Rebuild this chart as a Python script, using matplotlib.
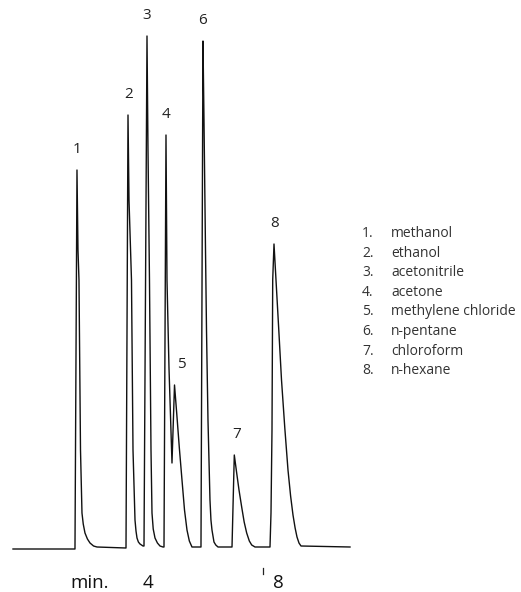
import matplotlib
matplotlib.use("Agg")
import matplotlib.pyplot as plt

# ---------------- data ----------------
compounds = ["methanol", "ethanol", "acetonitrile", "acetone",
             "methylene chloride", "n-pentane", "chloroform", "n-hexane"]
peak_numbers = ["1", "2", "3", "4", "5", "6", "7", "8"]
peak_time = [1.736, 3.318, 3.907, 4.496, 4.760, 5.643, 6.614, 7.845]   # min
peak_height = [378, 433, 512, 413, 163, 507, 93, 304]                  # detector response

# chromatogram trace (time in min, response)
trace_time = [
    -0.248, 1.674, 1.736, 1.767, 1.798, 1.845, 1.891, 1.930, 1.984, 2.060, 2.140, 2.250, 2.357,
    3.256, 3.318, 3.349, 3.426, 3.473, 3.535, 3.566, 3.597, 3.640, 3.690, 3.783,
    3.814, 3.907, 3.938, 3.984, 4.031, 4.062, 4.100, 4.155, 4.230, 4.310, 4.403,
    4.434, 4.496, 4.527, 4.589, 4.682,
    4.760, 4.828, 4.910, 4.992, 5.070, 5.147, 5.220, 5.302,
    5.581, 5.643, 5.674, 5.721, 5.752, 5.798, 5.860, 5.890, 5.922, 5.984, 6.040, 6.109,
    6.543, 6.614, 6.688, 6.760, 6.843, 6.920, 6.998, 7.080, 7.154, 7.256,
    7.721, 7.752, 7.783, 7.805, 7.845, 7.907, 7.990, 8.078, 8.180, 8.279, 8.360,
    8.434, 8.500, 8.558, 8.620, 8.682,
    10.202,
]
trace_signal = [
    -1, -1, 378, 298, 268, 98, 35, 24, 15, 9, 5, 2, 1,
    0, 433, 348, 268, 98, 28, 17, 10, 6, 4, 2,
    2, 512, 398, 268, 98, 35, 19, 10, 5, 2, 1,
    1, 413, 268, 180, 85,
    163, 135, 100, 68, 38, 18, 7, 1,
    1, 507, 428, 298, 218, 128, 48, 28, 18, 6, 3, 1,
    1, 93, 75, 58, 41, 26, 15, 7, 3, 1,
    1, 35, 118, 268, 304, 268, 220, 168, 120, 78, 52,
    33, 20, 11, 5, 2,
    1,
]

axis_labels = ["min.", "4", "8"]
axis_label_time = [2.140, 3.938, 7.969]
tick_time = 7.500

# ---------------- figure ----------------
fig = plt.figure(figsize=(5.21, 5.92), dpi=100)
ax = fig.add_axes([0, 0, 1, 1])
ax.set_xlim(-0.651, 15.504)
ax.set_ylim(-44, 548)
ax.axis("off")

ax.plot(trace_time, trace_signal, color="#111111", lw=1.0,
        solid_joinstyle="round")

# peak numbers above apexes
label_dx = {"2": 1, "5": 7, "7": 2, "8": 1}
for num, t, h in zip(peak_numbers, peak_time, peak_height):
    ax.annotate(num, (t, h), xytext=(label_dx.get(num, 0) * 0.72, 15),
                textcoords="offset points", ha="center", va="center",
                fontsize=11, family="Open Sans", color="#222222")

# time axis annotations
for lab, t in zip(axis_labels, axis_label_time):
    ax.text(t, -40, lab, ha="center", va="baseline", fontsize=13.5,
            family="Open Sans", color="#111111")
ax.plot([tick_time, tick_time], [-20, -26], color="#222222", lw=0.9)

# compound key
x_num, x_name = 362 / 521, 391 / 521
y0, dy = 1 - 237 / 592, 19.6 / 592
for i, name in enumerate(compounds):
    y = y0 - i * dy
    fig.text(x_num, y, f"{i + 1}.", ha="left", va="baseline", fontsize=10,
             family="Open Sans", color="#333333")
    fig.text(x_name, y, name, ha="left", va="baseline", fontsize=10,
             family="Open Sans", color="#333333")

fig.savefig("out.png", dpi=100)
